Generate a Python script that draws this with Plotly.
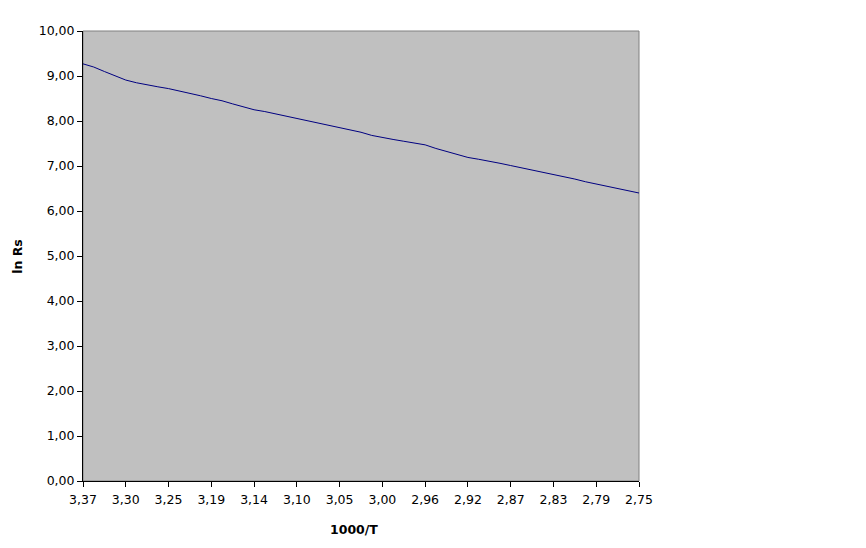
import plotly.graph_objects as go

tick_labels = ["3,37", "3,30", "3,25", "3,19", "3,14", "3,10", "3,05",
               "3,00", "2,96", "2,92", "2,87", "2,83", "2,79", "2,75"]
points_per_label = 4

ln_rs = [9.27, 9.20, 9.10, 9.00, 8.91, 8.85, 8.80, 8.76, 8.72, 8.67,
         8.62, 8.56, 8.50, 8.45, 8.38, 8.31, 8.25, 8.21, 8.16, 8.11,
         8.05, 8.00, 7.95, 7.90, 7.86, 7.81, 7.75, 7.68, 7.63, 7.59,
         7.55, 7.51, 7.47, 7.39, 7.32, 7.25, 7.19, 7.15, 7.11, 7.06,
         7.01, 6.96, 6.91, 6.87, 6.82, 6.77, 6.71, 6.65, 6.60, 6.55,
         6.49, 6.44, 6.40]

idx = list(range(len(ln_rs)))
tickvals = idx[::points_per_label]

fig = go.Figure()
fig.add_trace(go.Scatter(x=idx, y=ln_rs, mode="lines",
                         line=dict(color="#000080", width=1),
                         hoverinfo="y", showlegend=False))

font = dict(family="DejaVu Sans", size=12.5, color="#000000")

fig.update_layout(
    width=858, height=540,
    margin=dict(l=75, r=227, t=23, b=67),
    paper_bgcolor="white",
    plot_bgcolor="#C0C0C0",
    separators=",.",
    font=font,
    xaxis=dict(range=[0, len(ln_rs) - 1], tickvals=tickvals,
               ticktext=tick_labels, showgrid=False, zeroline=False,
               showline=True, linecolor="black", linewidth=1,
               ticks="outside", ticklen=5, tickcolor="black",
               ticklabelstandoff=2, tickfont=font),
    yaxis=dict(range=[0, 10], dtick=1, tickformat=".2f", showgrid=False,
               zeroline=False, showline=True, linecolor="black",
               linewidth=1, ticks="outside", ticklen=5, tickcolor="black",
               tickfont=font),
    shapes=[dict(type="rect", xref="paper", yref="paper", x0=0, x1=1,
                 y0=0, y1=1, line=dict(color="#808080", width=1),
                 layer="below")],
    annotations=[
        dict(text="<b>1000/T</b>", xref="paper", yref="paper",
             x=0.487, y=-0.107, xanchor="center", yanchor="middle",
             showarrow=False,
             font=dict(family="DejaVu Sans", size=12.5, color="black")),
        dict(text="<b>ln Rs</b>", xref="paper", yref="paper",
             x=-0.119, y=0.5, xanchor="center", yanchor="middle",
             textangle=-90, showarrow=False,
             font=dict(family="DejaVu Sans", size=12.5, color="black")),
    ],
)

fig.write_html("out.html")
